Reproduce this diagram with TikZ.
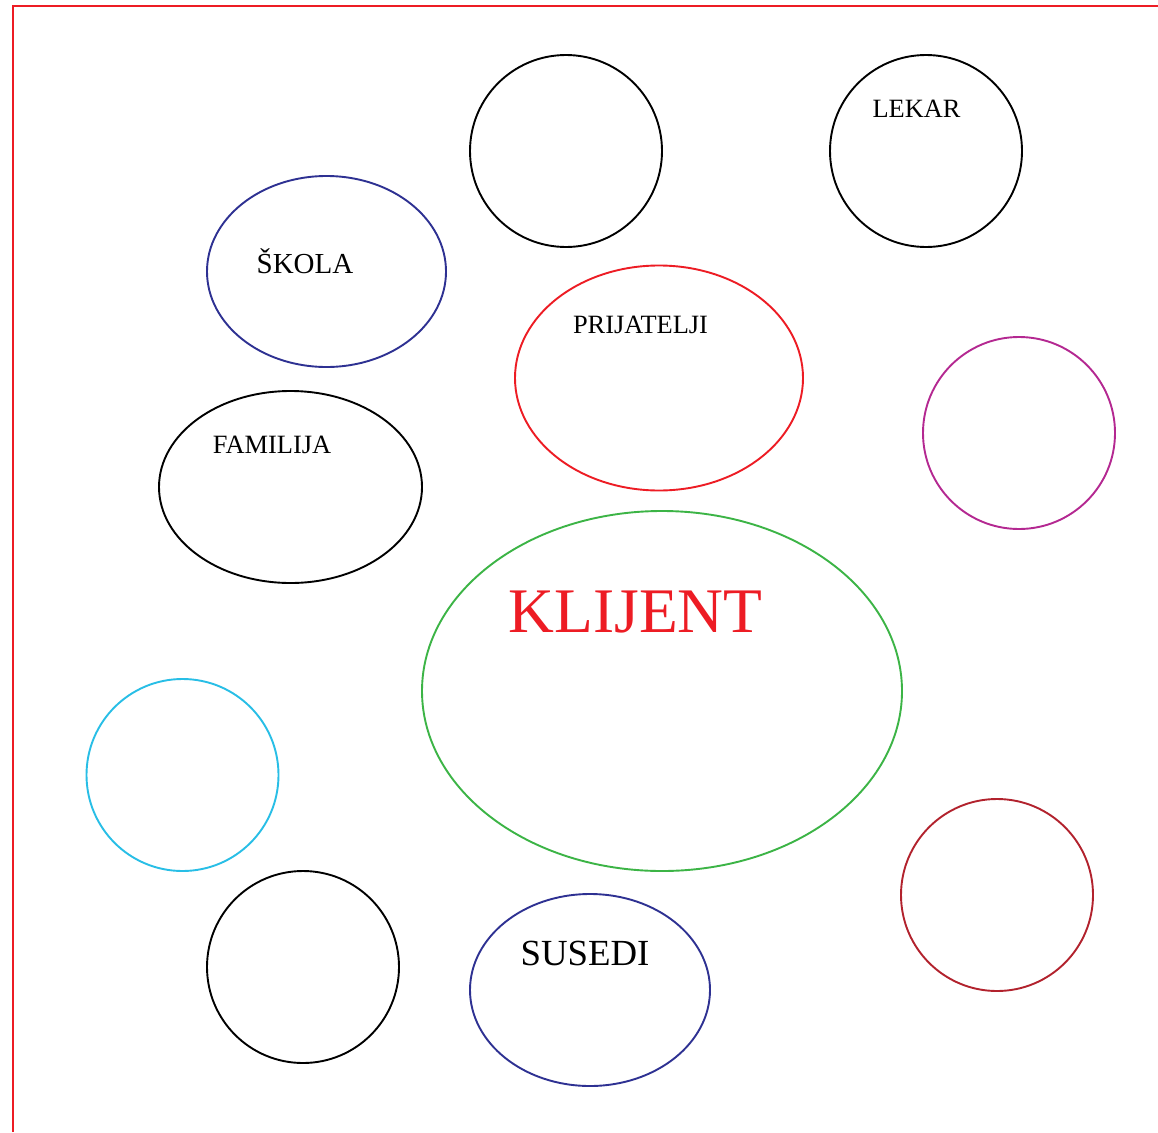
\documentclass[tikz,border=0pt]{standalone}
\usepackage{fontspec}
\setmainfont{Liberation Serif}
\usetikzlibrary{shapes.geometric}
\definecolor{cnavy}{RGB}{46,49,146}
\definecolor{cred}{RGB}{237,28,36}
\definecolor{cgreen}{RGB}{60,180,70}
\definecolor{cmag}{RGB}{180,40,145}
\definecolor{ccyan}{RGB}{40,190,230}
\definecolor{cdred}{RGB}{178,34,45}
\tikzset{
  bubble/.style={ellipse, draw, line width=1.9pt, inner sep=0pt, minimum width=#1},
  lbl/.style={anchor=base, inner sep=0pt}
}
\begin{document}
\begin{tikzpicture}[x=1pt,y=-1pt]
\useasboundingbox (0,0) rectangle (1158,1132);
\fill[white] (0,0) rectangle (1158,1132);
\coordinate (bl) at (13,1132);
\coordinate (tl) at (13,6);
\coordinate (tr) at (1158,6);
\draw[cred, line width=2.2pt] (bl) -- (tl) -- (tr);
% bubbles
\node[bubble=192pt, minimum height=192pt, draw=black] (top) at (566,151) {};
\node[bubble=192pt, minimum height=192pt, draw=black] (lekar) at (926,151) {};
\node[bubble=239pt, minimum height=191pt, draw=cnavy] (skola) at (326.5,271.5) {};
\node[bubble=288pt, minimum height=225pt, draw=cred] (prij) at (659,378) {};
\node[bubble=192pt, minimum height=192pt, draw=cmag] (mag) at (1019,433) {};
\node[bubble=263pt, minimum height=192pt, draw=black] (fam) at (290.5,487) {};
\node[bubble=480pt, minimum height=360pt, draw=cgreen] (klij) at (662,691) {};
\node[bubble=192pt, minimum height=192pt, draw=ccyan] (cyan) at (182.5,775) {};
\node[bubble=192pt, minimum height=192pt, draw=cdred] (dred) at (997,895) {};
\node[bubble=192pt, minimum height=192pt, draw=black] (bot) at (303,967) {};
\node[bubble=240pt, minimum height=192pt, draw=cnavy] (sus) at (590,990) {};
% labels
\node[lbl, font=\fontsize{26.4}{30}\selectfont] (tlekar) at (916.5,117) {LEKAR};
\node[lbl, font=\fontsize{29}{34}\selectfont] (tskola) at (305,273) {ŠKOLA};
\node[lbl, font=\fontsize{26.4}{30}\selectfont] (tprij) at (640.5,333) {PRIJATELJI};
\node[lbl, font=\fontsize{26.4}{30}\selectfont] (tfam) at (272,453) {FAMILIJA};
\node[lbl, font=\fontsize{63.5}{70}\selectfont, text=cred] (tklij) at (635.5,632) {KLIJENT};
\node[lbl, font=\fontsize{36.8}{42}\selectfont] (tsus) at (585,965) {SUSEDI};
\end{tikzpicture}
\end{document}
